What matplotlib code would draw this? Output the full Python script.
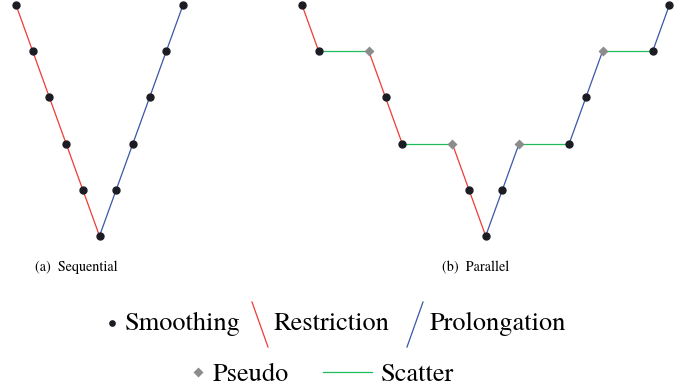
import matplotlib
matplotlib.use("Agg")
import matplotlib.pyplot as plt
from matplotlib.lines import Line2D

# V-cycle schedules: grid level at each step
seq_steps = list(range(11))
seq_levels = [5, 4, 3, 2, 1, 0, 1, 2, 3, 4, 5]

par_steps = [0, 1, 4, 5, 6, 9, 10, 11, 12, 13, 16, 17, 18, 21, 22]
par_levels = [5, 4, 4, 3, 2, 2, 1, 0, 1, 2, 2, 3, 4, 4, 5]
# operation between consecutive steps: R restriction, P prolongation, S scatter
par_ops = ["R", "S", "R", "R", "S", "R", "R", "P", "P", "S", "P", "P", "S", "P"]
# node kind: M smoothing, D pseudo
par_nodes = ["M", "M", "D", "M", "M", "D", "M", "M", "M", "D", "M", "M", "D", "M", "M"]

captions = ["(a)  Sequential", "(b)  Parallel"]
legend_row1 = ["Smoothing", "Restriction", "Prolongation"]
legend_row2 = ["Pseudo", "Scatter"]

RED = "#ef3b36"
BLUE = "#3a56a8"
GREEN = "#1fba5a"
GREY = "#8c8c8c"
DOT = "#1c1c24"
OP_COLOR = {"R": RED, "P": BLUE, "S": GREEN}

SERIF = ["TeX Gyre Termes", "Liberation Serif", "DejaVu Serif"]
plt.rcParams["font.family"] = SERIF

W, H = 688, 391
fig = plt.figure(figsize=(W / 100, H / 100), dpi=100)

unit_x = 16.7
unit_y = 46.2
LW = 0.9


def make_axes(x0_px, y0_px, nsteps):
    # x0_px: pixel x of step 0, y0_px: pixel y (from top) of level 0
    left = x0_px - 0.5 * unit_x
    width = (nsteps + 1) * unit_x
    bottom = H - (y0_px + 0.3 * unit_y)
    height = 5.6 * unit_y
    ax = fig.add_axes([left / W, bottom / H, width / W, height / H])
    ax.set_xlim(-0.5, nsteps + 0.5)
    ax.set_ylim(-0.3, 5.3)
    ax.axis("off")
    return ax


# sequential V-cycle
ax1 = make_axes(16, 236, 10)
mid = seq_levels.index(0)
ax1.plot(seq_steps[:mid + 1], seq_levels[:mid + 1], color=RED, lw=LW, clip_on=False, zorder=1)
ax1.plot(seq_steps[mid:], seq_levels[mid:], color=BLUE, lw=LW, clip_on=False, zorder=1)
ax1.plot(seq_steps, seq_levels, "o", color=DOT, ms=5, clip_on=False, zorder=3)

# parallel V-cycle
ax2 = make_axes(302, 236, 22)
for i, op in enumerate(par_ops):
    ax2.plot(par_steps[i:i + 2], par_levels[i:i + 2], color=OP_COLOR[op], lw=LW,
             clip_on=False, zorder=1)
for s, l, k in zip(par_steps, par_levels, par_nodes):
    if k == "M":
        ax2.plot(s, l, "o", color=DOT, ms=5, clip_on=False, zorder=3)
    else:
        ax2.plot(s, l, "D", color=GREY, ms=5.2, mec="none", clip_on=False, zorder=3)


def fx(px):
    return px / W


def fy(py):
    return 1 - py / H


# captions
fig.text(fx(35), fy(271), captions[0], fontsize=10.2, va="baseline", ha="left", family=SERIF)
fig.text(fx(442), fy(271), captions[1], fontsize=10.2, va="baseline", ha="left", family=SERIF)

# legend, row 1
fs = 19
fig.add_artist(Line2D([fx(112)], [fy(323)], marker="o", color=DOT, ms=3.8, ls="none"))
fig.text(fx(125), fy(330), legend_row1[0], fontsize=fs, va="baseline", ha="left", family=SERIF)
fig.add_artist(Line2D([fx(252), fx(268)], [fy(302), fy(347)], color=RED, lw=LW))
fig.text(fx(273), fy(330), legend_row1[1], fontsize=fs, va="baseline", ha="left", family=SERIF)
fig.add_artist(Line2D([fx(423), fx(407)], [fy(302), fy(347)], color=BLUE, lw=LW))
fig.text(fx(430), fy(330), legend_row1[2], fontsize=fs, va="baseline", ha="left", family=SERIF)

# legend, row 2
fig.add_artist(Line2D([fx(198)], [fy(372)], marker="D", color=GREY, mec="none", ms=5, ls="none"))
fig.text(fx(213), fy(381), legend_row2[0], fontsize=fs, va="baseline", ha="left", family=SERIF)
fig.add_artist(Line2D([fx(323), fx(372)], [fy(372), fy(372)], color=GREEN, lw=LW))
fig.text(fx(381), fy(381), legend_row2[1], fontsize=fs, va="baseline", ha="left", family=SERIF)

fig.savefig("out.png", dpi=100)
